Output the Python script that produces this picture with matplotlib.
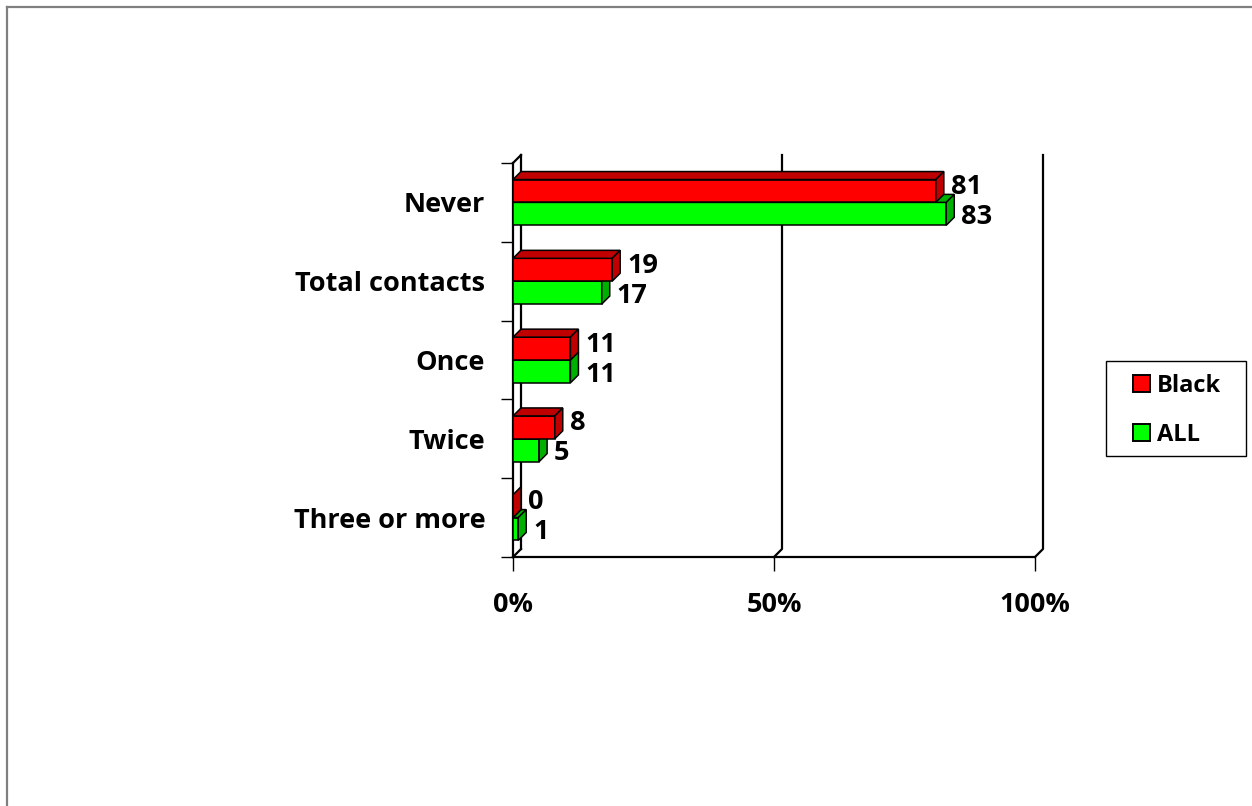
import numpy as np
import matplotlib.pyplot as plt
from matplotlib.patches import Polygon, Patch, Rectangle
from matplotlib.lines import Line2D

plt.rcParams['font.family'] = ['Open Sans', 'DejaVu Sans']
plt.rcParams['font.weight'] = 'bold'

categories = ['Three or more', 'Twice', 'Once', 'Total contacts', 'Never']
black = [0, 8, 11, 19, 81]
all_ = [1, 5, 11, 17, 83]
xticks = [0, 50, 100]
xticklabels = ['0%', '50%', '100%']

red, red_dark = '#FF0000', '#C00000'
green, green_dark = '#00FF00', '#00B000'
FS = 19.5

W, H = 1252, 806
fig = plt.figure(figsize=(W / 100, H / 100), dpi=100)

# plot area in pixels: front floor from x=513..1035, y from 163..557
ax = fig.add_axes([513 / W, (H - 557) / H, 522 / W, 394 / H])
ax.set_xlim(0, 100)
ax.set_ylim(-0.5, 4.5)
for s in ax.spines.values():
    s.set_visible(False)

# depth of the fake 3d box, in data units (about 8px each way)
DX = 8 / 5.22
DY = 8 / 78.8
BH = 0.29   # height of one bar face

line_kw = dict(color='black', lw=1.6, clip_on=False, zorder=1)

# back wall gridlines with the bend onto the floor
for x in xticks[1:]:
    ax.plot([x + DX, x + DX, x], [4.5 + DY, -0.5 + DY, -0.5], **line_kw)
# left wall
ax.plot([0, 0], [-0.5, 4.5], **line_kw)
ax.plot([DX, DX], [-0.5 + DY, 4.5 + DY], **line_kw)
ax.plot([0, DX], [4.5, 4.5 + DY], **line_kw)
ax.plot([0, DX], [-0.5, -0.5 + DY], **line_kw)
# floor front edge
ax.plot([0, 100], [-0.5, -0.5], **line_kw)


def bar3d(y0, v, face, dark):
    y1 = y0 + BH
    kw = dict(edgecolor='black', lw=1.1, clip_on=False, zorder=3)
    if v > 0:
        ax.add_patch(Polygon([(0, y0), (v, y0), (v, y1), (0, y1)], facecolor=face, **kw))
        ax.add_patch(Polygon([(0, y1), (v, y1), (v + DX, y1 + DY), (DX, y1 + DY)],
                             facecolor=dark, **kw))
    ax.add_patch(Polygon([(v, y0), (v + DX, y0 + DY), (v + DX, y1 + DY), (v, y1)],
                         facecolor=dark, **kw))


for i, (b, a) in enumerate(zip(black, all_)):
    bar3d(i - BH, a, green, green_dark)
    bar3d(i, b, red, red_dark)
    ax.text(b + DX + 1.3, i + BH / 2 + 0.05, str(b), fontsize=FS, fontweight='bold',
            va='center', ha='left', zorder=4)
    ax.text(a + DX + 1.3, i - BH / 2 - 0.04, str(a), fontsize=FS, fontweight='bold',
            va='center', ha='left', zorder=4)

ax.set_xticks(xticks)
ax.set_xticklabels(xticklabels, fontsize=FS, fontweight='bold')
ax.tick_params(axis='x', length=10, width=1, pad=15)
ax.set_yticks(range(len(categories)))
ax.set_yticklabels(categories, fontsize=FS, fontweight='bold')
ax.tick_params(axis='y', length=0, pad=20)
ax.set_yticks(np.arange(-0.5, 5, 1), minor=True)
ax.tick_params(axis='y', which='minor', length=9, width=1)

# legend box drawn separately so it can be sized freely
fig.add_artist(Rectangle((1106 / W, 1 - 456 / H), 140 / W, 95 / H,
                         transform=fig.transFigure, facecolor='white',
                         edgecolor='black', lw=1.0))
handles = [Patch(facecolor=red, edgecolor='black', lw=1.4, label='Black'),
           Patch(facecolor=green, edgecolor='black', lw=1.4, label='ALL')]
leg = fig.legend(handles=handles, loc='upper left',
                 bbox_to_anchor=(1133 / W, 1 - 374 / H), frameon=False,
                 prop={'family': 'Open Sans', 'weight': 'bold', 'size': 17},
                 handlelength=0.7, handleheight=0.7, handletextpad=0.32,
                 labelspacing=1.05, borderpad=0, borderaxespad=0)

# outer frame (left and top edges only)
fig.add_artist(Line2D([7 / W, 7 / W], [0, 1 - 7 / H], transform=fig.transFigure,
                      color='#808080', lw=1.6))
fig.add_artist(Line2D([7 / W, 1], [1 - 7 / H, 1 - 7 / H], transform=fig.transFigure,
                      color='#808080', lw=1.6))

fig.savefig('out.png', dpi=100)
